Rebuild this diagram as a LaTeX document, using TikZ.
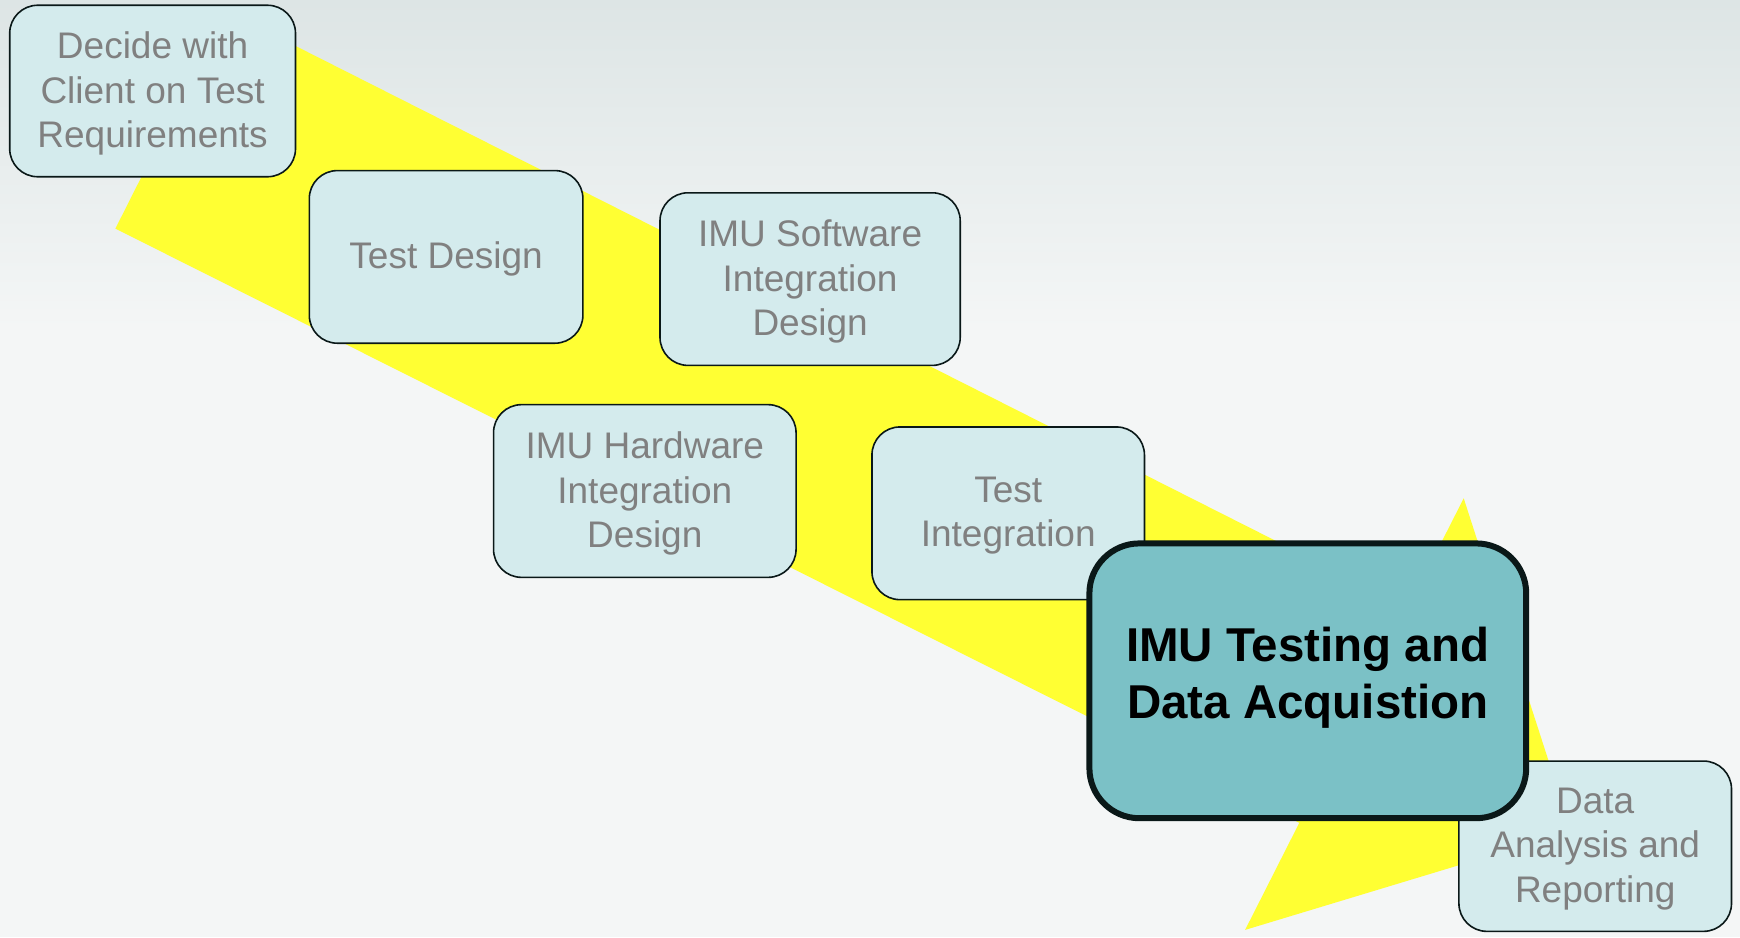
\documentclass[tikz,border=0pt]{standalone}
\usepackage{fontspec}
\setmainfont{Liberation Sans}
\definecolor{bgtop}{RGB}{221,229,229}
\definecolor{bgbot}{RGB}{244,246,246}
\definecolor{arrowyellow}{RGB}{255,255,51}
\definecolor{boxfill}{RGB}{212,235,237}
\definecolor{mainfill}{RGB}{123,193,198}
\definecolor{boxline}{RGB}{10,24,24}
\definecolor{boxtext}{RGB}{128,128,128}
\begin{document}
\begin{tikzpicture}[x=1pt,y=-1pt,
  stage/.style={draw=boxline, line width=1.6pt, fill=boxfill, rounded corners=28pt, inner sep=0pt},
  stagetext/.style={align=center, text=boxtext, font=\fontsize{37}{44.5}\selectfont, inner sep=0pt},
  mainstage/.style={draw=boxline, line width=6pt, fill=mainfill, rounded corners=50pt, inner sep=0pt},
  maintext/.style={align=center, text=black, font=\bfseries\fontsize{47.5}{57.5}\selectfont, inner sep=0pt}]

\useasboundingbox (0,0) rectangle (1740,937);

% background
\fill[top color=bgtop, bottom color=bgbot] (0,0) rectangle (1740,330);
\fill[bgbot] (0,329) rectangle (1740,937);

% broad yellow process arrow
\fill[arrowyellow] (225.3,10.5) -- (1408.2,607.7) -- (1463.7,498.3) -- (1571.3,831.2)
  -- (1245.1,929.9) -- (1299.3,822.8) -- (115.4,228.6) -- cycle;

% process stages (box, then its caption slightly below the centre)
\node[stage, minimum width=285.8pt, minimum height=171.5pt] (req) at (152.6,91.0) {};
\node[stagetext] (req-t) at ([yshift=-2.5pt]req.center) {Decide with\\Client on Test\\Requirements};

\node[stage, minimum width=273.6pt, minimum height=172.6pt] (design) at (446.1,256.9) {};
\node[stagetext] (design-t) at ([yshift=-2.5pt]design.center) {Test Design};

\node[stage, minimum width=300.2pt, minimum height=172.6pt] (sw) at (810.1,279.1) {};
\node[stagetext] (sw-t) at ([yshift=-2.5pt]sw.center) {IMU Software\\Integration\\Design};

\node[stage, minimum width=302.5pt, minimum height=172.7pt] (hw) at (644.8,491.0) {};
\node[stagetext] (hw-t) at ([yshift=-2.5pt]hw.center) {IMU Hardware\\Integration\\Design};

\node[stage, minimum width=272.5pt, minimum height=172.7pt] (integ) at (1008.2,513.3) {};
\node[stagetext] (integ-t) at ([yshift=-2.5pt]integ.center) {Test\\Integration};

\node[stage, minimum width=272.6pt, minimum height=170.3pt] (report) at (1595.2,846.2) {};
\node[stagetext] (report-t) at ([yshift=-2.5pt]report.center) {Data\\Analysis and\\Reporting};

% the highlighted current stage
\node[mainstage, minimum width=436.8pt, minimum height=274.8pt] (testing) at (1307.8,680.8) {};
\node[maintext] (testing-t) at ([yshift=3.3pt]testing.center) {IMU Testing and\\Data Acquistion};
\end{tikzpicture}
\end{document}
